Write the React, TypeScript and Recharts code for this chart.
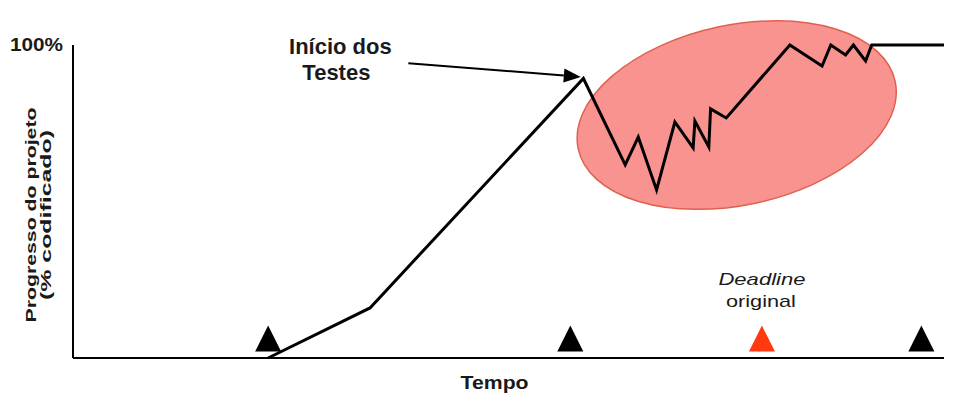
import * as React from "react";
import {
  ComposedChart,
  Line,
  ReferenceDot,
  ReferenceLine,
  Scatter,
  XAxis,
  YAxis,
} from "recharts";

const FONT = "'Liberation Sans', Arial, sans-serif";
const INK = "#1a1a1a";

// progress curve: time (0-100) vs % coded
const progressTime = [22.4, 34.1, 58.6, 63.4, 64.9, 67.0, 69.1, 71.2, 71.4, 73.0, 73.2, 75.0, 82.3, 86.0, 87.0, 88.7, 89.6, 91.0, 91.7, 100];
const progressPct = [0, 16, 89.3, 61.7, 70.6, 53.7, 75.4, 67.1, 75.7, 67.4, 79.6, 76.7, 100, 93.3, 100, 96.8, 100, 94.9, 100, 100];

// milestone triangles along the time axis
const milestoneTime = [22.4, 57.1, 79.1, 97.4];
const milestoneColor = ["#000000", "#000000", "#ff3a10", "#000000"];
const milestonePct = 3;

const yTicks = [100];

// annotation anchors (data units)
const testingZone = { t: 76.2, p: 77.6 };
const arrowFrom = { t: 38.5, p: 94.2 };
const arrowTo = { t: 58.3, p: 89.8 };
const testsLabel = { t: 30.7, p: 97.1 };
const deadlineLabel = { t: 79.1, p: 23.3 };

const progress = progressTime.map((t, i) => ({ t, p: progressPct[i] }));
const milestones = milestoneTime.map((t, i) => ({ t, p: milestonePct, color: milestoneColor[i] }));

function Triangle(props: any) {
  const { cx, cy, payload } = props;
  if (cx == null || cy == null) return null;
  const base = cy + 3;
  return (
    <polygon
      points={`${cx - 13},${base} ${cx + 13},${base} ${cx},${base - 26}`}
      fill={payload.color}
    />
  );
}

function Arrow(props: any) {
  const { x1, y1, x2, y2 } = props;
  if (x1 == null) return null;
  const dx = x2 - x1;
  const dy = y2 - y1;
  const len = Math.sqrt(dx * dx + dy * dy);
  const ux = dx / len;
  const uy = dy / len;
  const head = 17;
  const half = 7;
  const bx = x2 - ux * head;
  const by = y2 - uy * head;
  return (
    <g>
      <line x1={x1} y1={y1} x2={bx} y2={by} stroke="#000" strokeWidth={2} />
      <polygon
        points={`${x2},${y2} ${bx - uy * half},${by + ux * half} ${bx + uy * half},${by - ux * half}`}
        fill="#000"
      />
    </g>
  );
}

function PctTick(props: any) {
  const { x, y, payload } = props;
  return (
    <text
      x={x}
      y={y}
      dy="0.355em"
      textAnchor="end"
      fontFamily={FONT}
      fontWeight="bold"
      fontSize={18}
      fill={INK}
      textLength={53}
      lengthAdjust="spacingAndGlyphs"
    >
      {`${payload.value}%`}
    </text>
  );
}

export default function App() {
  return (
    <div style={{ position: "absolute", left: 0, top: 0, background: "#fff" }}>
      <ComposedChart
        width={963}
        height={404}
        margin={{ top: 45, right: 19, bottom: 0, left: 0 }}
        style={{ fontFamily: FONT }}
      >
        <XAxis
          type="number"
          dataKey="t"
          domain={[0, 100]}
          tick={false}
          tickLine={false}
          axisLine={{ stroke: "#000", strokeWidth: 2 }}
          height={46}
          label={{
            content: ({ viewBox }: any) => (
              <text
                x={viewBox.x + viewBox.width * 0.484}
                y={389}
                textAnchor="middle"
                fontFamily={FONT}
                fontWeight="bold"
                fontSize={18}
                fill={INK}
                textLength={68}
                lengthAdjust="spacingAndGlyphs"
              >
                Tempo
              </text>
            ),
          }}
        />
        <YAxis
          type="number"
          dataKey="p"
          domain={[0, 100]}
          ticks={yTicks}
          tickLine={false}
          tickSize={8}
          tickMargin={2}
          tick={<PctTick />}
          axisLine={{ stroke: "#000", strokeWidth: 2 }}
          width={73}
          label={{
            content: () => (
              <g fontFamily={FONT} fontWeight="bold" fill={INK} fontSize={15}>
                <text
                  x={36}
                  y={215}
                  textAnchor="middle"
                  transform="rotate(-90 36 215)"
                  textLength={215}
                  lengthAdjust="spacingAndGlyphs"
                >
                  Progresso do projeto
                </text>
                <text
                  x={51}
                  y={215}
                  textAnchor="middle"
                  transform="rotate(-90 51 215)"
                  textLength={170}
                  lengthAdjust="spacingAndGlyphs"
                >
                  (% codificado)
                </text>
              </g>
            ),
          }}
        />
        <ReferenceDot
          x={testingZone.t}
          y={testingZone.p}
          ifOverflow="visible"
          zIndex={50}
          shape={(props: any) => (
            <ellipse
              cx={props.cx}
              cy={props.cy}
              rx={162}
              ry={90}
              transform={`rotate(-12 ${props.cx} ${props.cy})`}
              fill="#f8938f"
              stroke="#e0604e"
              strokeWidth={1.5}
            />
          )}
        />
        <Line
          data={progress}
          dataKey="p"
          type="linear"
          stroke="#000"
          strokeWidth={3}
          strokeLinejoin="miter"
          dot={false}
          activeDot={false}
          isAnimationActive={false}
        />
        <Scatter data={milestones} dataKey="p" shape={Triangle} isAnimationActive={false} />
        <ReferenceLine
          segment={[
            { x: arrowFrom.t, y: arrowFrom.p },
            { x: arrowTo.t, y: arrowTo.p },
          ]}
          ifOverflow="visible"
          shape={Arrow}
        />
        <ReferenceDot
          x={testsLabel.t}
          y={testsLabel.p}
          ifOverflow="visible"
          shape={(props: any) => (
            <g fontFamily={FONT} fontWeight="bold" fontSize={22} fill={INK}>
              <text x={props.cx} y={props.cy} textAnchor="middle">
                Início dos
              </text>
              <text x={props.cx - 4} y={props.cy + 26} textAnchor="middle">
                Testes
              </text>
            </g>
          )}
        />
        <ReferenceDot
          x={deadlineLabel.t}
          y={deadlineLabel.p}
          ifOverflow="visible"
          shape={(props: any) => (
            <g fontFamily={FONT} fontSize={17} fill={INK}>
              <text x={props.cx} y={props.cy} textAnchor="middle" fontStyle="italic" textLength={87} lengthAdjust="spacingAndGlyphs">
                Deadline
              </text>
              <text x={props.cx - 1} y={props.cy + 22} textAnchor="middle" textLength={70} lengthAdjust="spacingAndGlyphs">
                original
              </text>
            </g>
          )}
        />
      </ComposedChart>
    </div>
  );
}
